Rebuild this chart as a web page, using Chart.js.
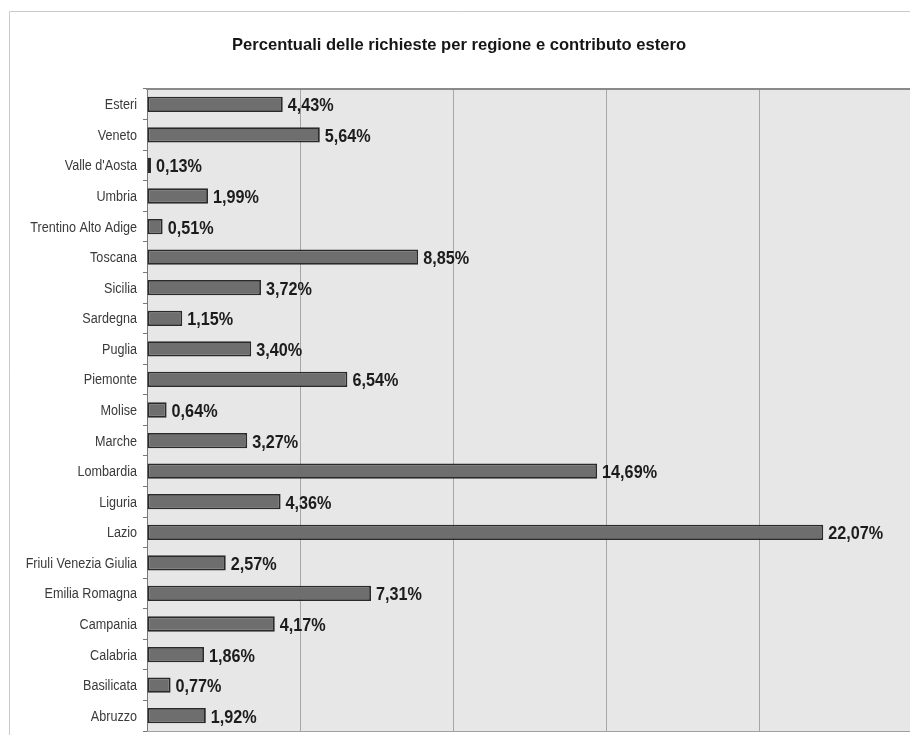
<!DOCTYPE html>
<html>
<head>
<meta charset="utf-8">
<script src="https://cdn.jsdelivr.net/npm/chart.js@4/dist/chart.umd.min.js"></script>
<style>
html,body{margin:0;padding:0;background:#fff;overflow:hidden;}
#wrap{position:absolute;left:0;top:0;width:916px;height:735px;}
</style>
</head>
<body>
<div id="wrap"><canvas id="c" width="916" height="735"></canvas></div>
<script>
const categories = ["Esteri","Veneto","Valle d'Aosta","Umbria","Trentino Alto Adige","Toscana","Sicilia","Sardegna","Puglia","Piemonte","Molise","Marche","Lombardia","Liguria","Lazio","Friuli Venezia Giulia","Emilia Romagna","Campania","Calabria","Basilicata","Abruzzo"];
const values = [4.43,5.64,0.13,1.99,0.51,8.85,3.72,1.15,3.40,6.54,0.64,3.27,14.69,4.36,22.07,2.57,7.31,4.17,1.86,0.77,1.92];
const titleText = "Percentuali delle richieste per regione e contributo estero";
const xMin = 0, xMax = 25, xStep = 5;

const FONT = "'Liberation Sans', Arial, sans-serif";

// draw text horizontally condensed, like Arial Narrow
function narrowText(ctx, txt, x, y, align, sx) {
  ctx.save();
  ctx.translate(x, y);
  ctx.scale(sx, 1);
  ctx.textAlign = align;
  ctx.textBaseline = 'alphabetic';
  ctx.fillText(txt, 0, 0);
  ctx.restore();
}

const textPlugin = {
  id: 'texts',
  beforeDraw(chart) {
    const {ctx, chartArea: a} = chart;
    ctx.save();
    ctx.strokeStyle = '#cacaca';
    ctx.lineWidth = 1;
    ctx.beginPath();
    ctx.moveTo(9.5, 735); ctx.lineTo(9.5, 11.5); ctx.lineTo(916, 11.5);
    ctx.stroke();
    ctx.fillStyle = '#e7e7e7';
    ctx.fillRect(a.left, a.top, a.right - a.left, a.bottom - a.top);
    ctx.restore();
  },
  afterDraw(chart) {
    const {ctx, chartArea: a} = chart;
    ctx.save();
    ctx.strokeStyle = '#8a8a8a';
    ctx.lineWidth = 2;
    ctx.beginPath();
    ctx.moveTo(a.left - 1, a.top); ctx.lineTo(a.right, a.top);
    ctx.stroke();
    ctx.strokeStyle = '#a0a0a0';
    ctx.lineWidth = 1;
    ctx.beginPath();
    ctx.moveTo(a.left, a.bottom + 0.5); ctx.lineTo(a.right, a.bottom + 0.5);
    ctx.stroke();
    // title
    ctx.fillStyle = '#161616';
    ctx.font = "bold 17px " + FONT;
    const tw = ctx.measureText(titleText).width;
    narrowText(ctx, titleText, 459, 50, 'center', 454 / tw);
    // category labels
    const ys = chart.scales.y;
    ctx.fillStyle = '#3a3a3a';
    ctx.font = "14px " + FONT;
    chart.data.labels.forEach((lab, i) => {
      const y = ys.getPixelForValue(i);
      narrowText(ctx, lab, a.left - 10, y + 5, 'right', 0.9);
    });
    ctx.restore();
  },
  afterDatasetsDraw(chart) {
    const {ctx} = chart;
    const meta = chart.getDatasetMeta(0);
    ctx.save();
    ctx.font = "bold 18px " + FONT;
    ctx.fillStyle = '#1c1c1c';
    meta.data.forEach((bar, i) => {
      const v = chart.data.datasets[0].data[i];
      const txt = v.toFixed(2).replace('.', ',') + '%';
      narrowText(ctx, txt, bar.x + 5, bar.y + 7, 'left', 0.9);
    });
    ctx.restore();
  }
};

new Chart(document.getElementById('c'), {
  type: 'bar',
  data: {
    labels: categories,
    datasets: [{
      data: values,
      backgroundColor: '#6e6e6e',
      borderColor: '#2a2a2a',
      borderWidth: 1.8,
      borderSkipped: false,
      categoryPercentage: 1,
      barPercentage: 0.5
    }]
  },
  options: {
    indexAxis: 'y',
    responsive: false,
    animation: false,
    layout: { padding: { left: 0, right: 3, top: 89, bottom: 4 } },
    plugins: {
      legend: { display: false },
      tooltip: { enabled: false },
      title: { display: false }
    },
    scales: {
      x: {
        min: xMin, max: xMax,
        afterFit(scale) { scale.height = 0; },
        ticks: { display: false, stepSize: xStep },
        grid: { color: '#a6a6a6', lineWidth: 1, drawTicks: false },
        border: { display: false }
      },
      y: {
        afterFit(scale) { scale.width = 147; },
        ticks: { display: false },
        grid: { drawOnChartArea: false, drawTicks: true, tickLength: 4, color: '#777', offset: true },
        border: { display: true, color: '#777', width: 1 }
      }
    }
  },
  plugins: [textPlugin]
});
</script>
</body>
</html>
